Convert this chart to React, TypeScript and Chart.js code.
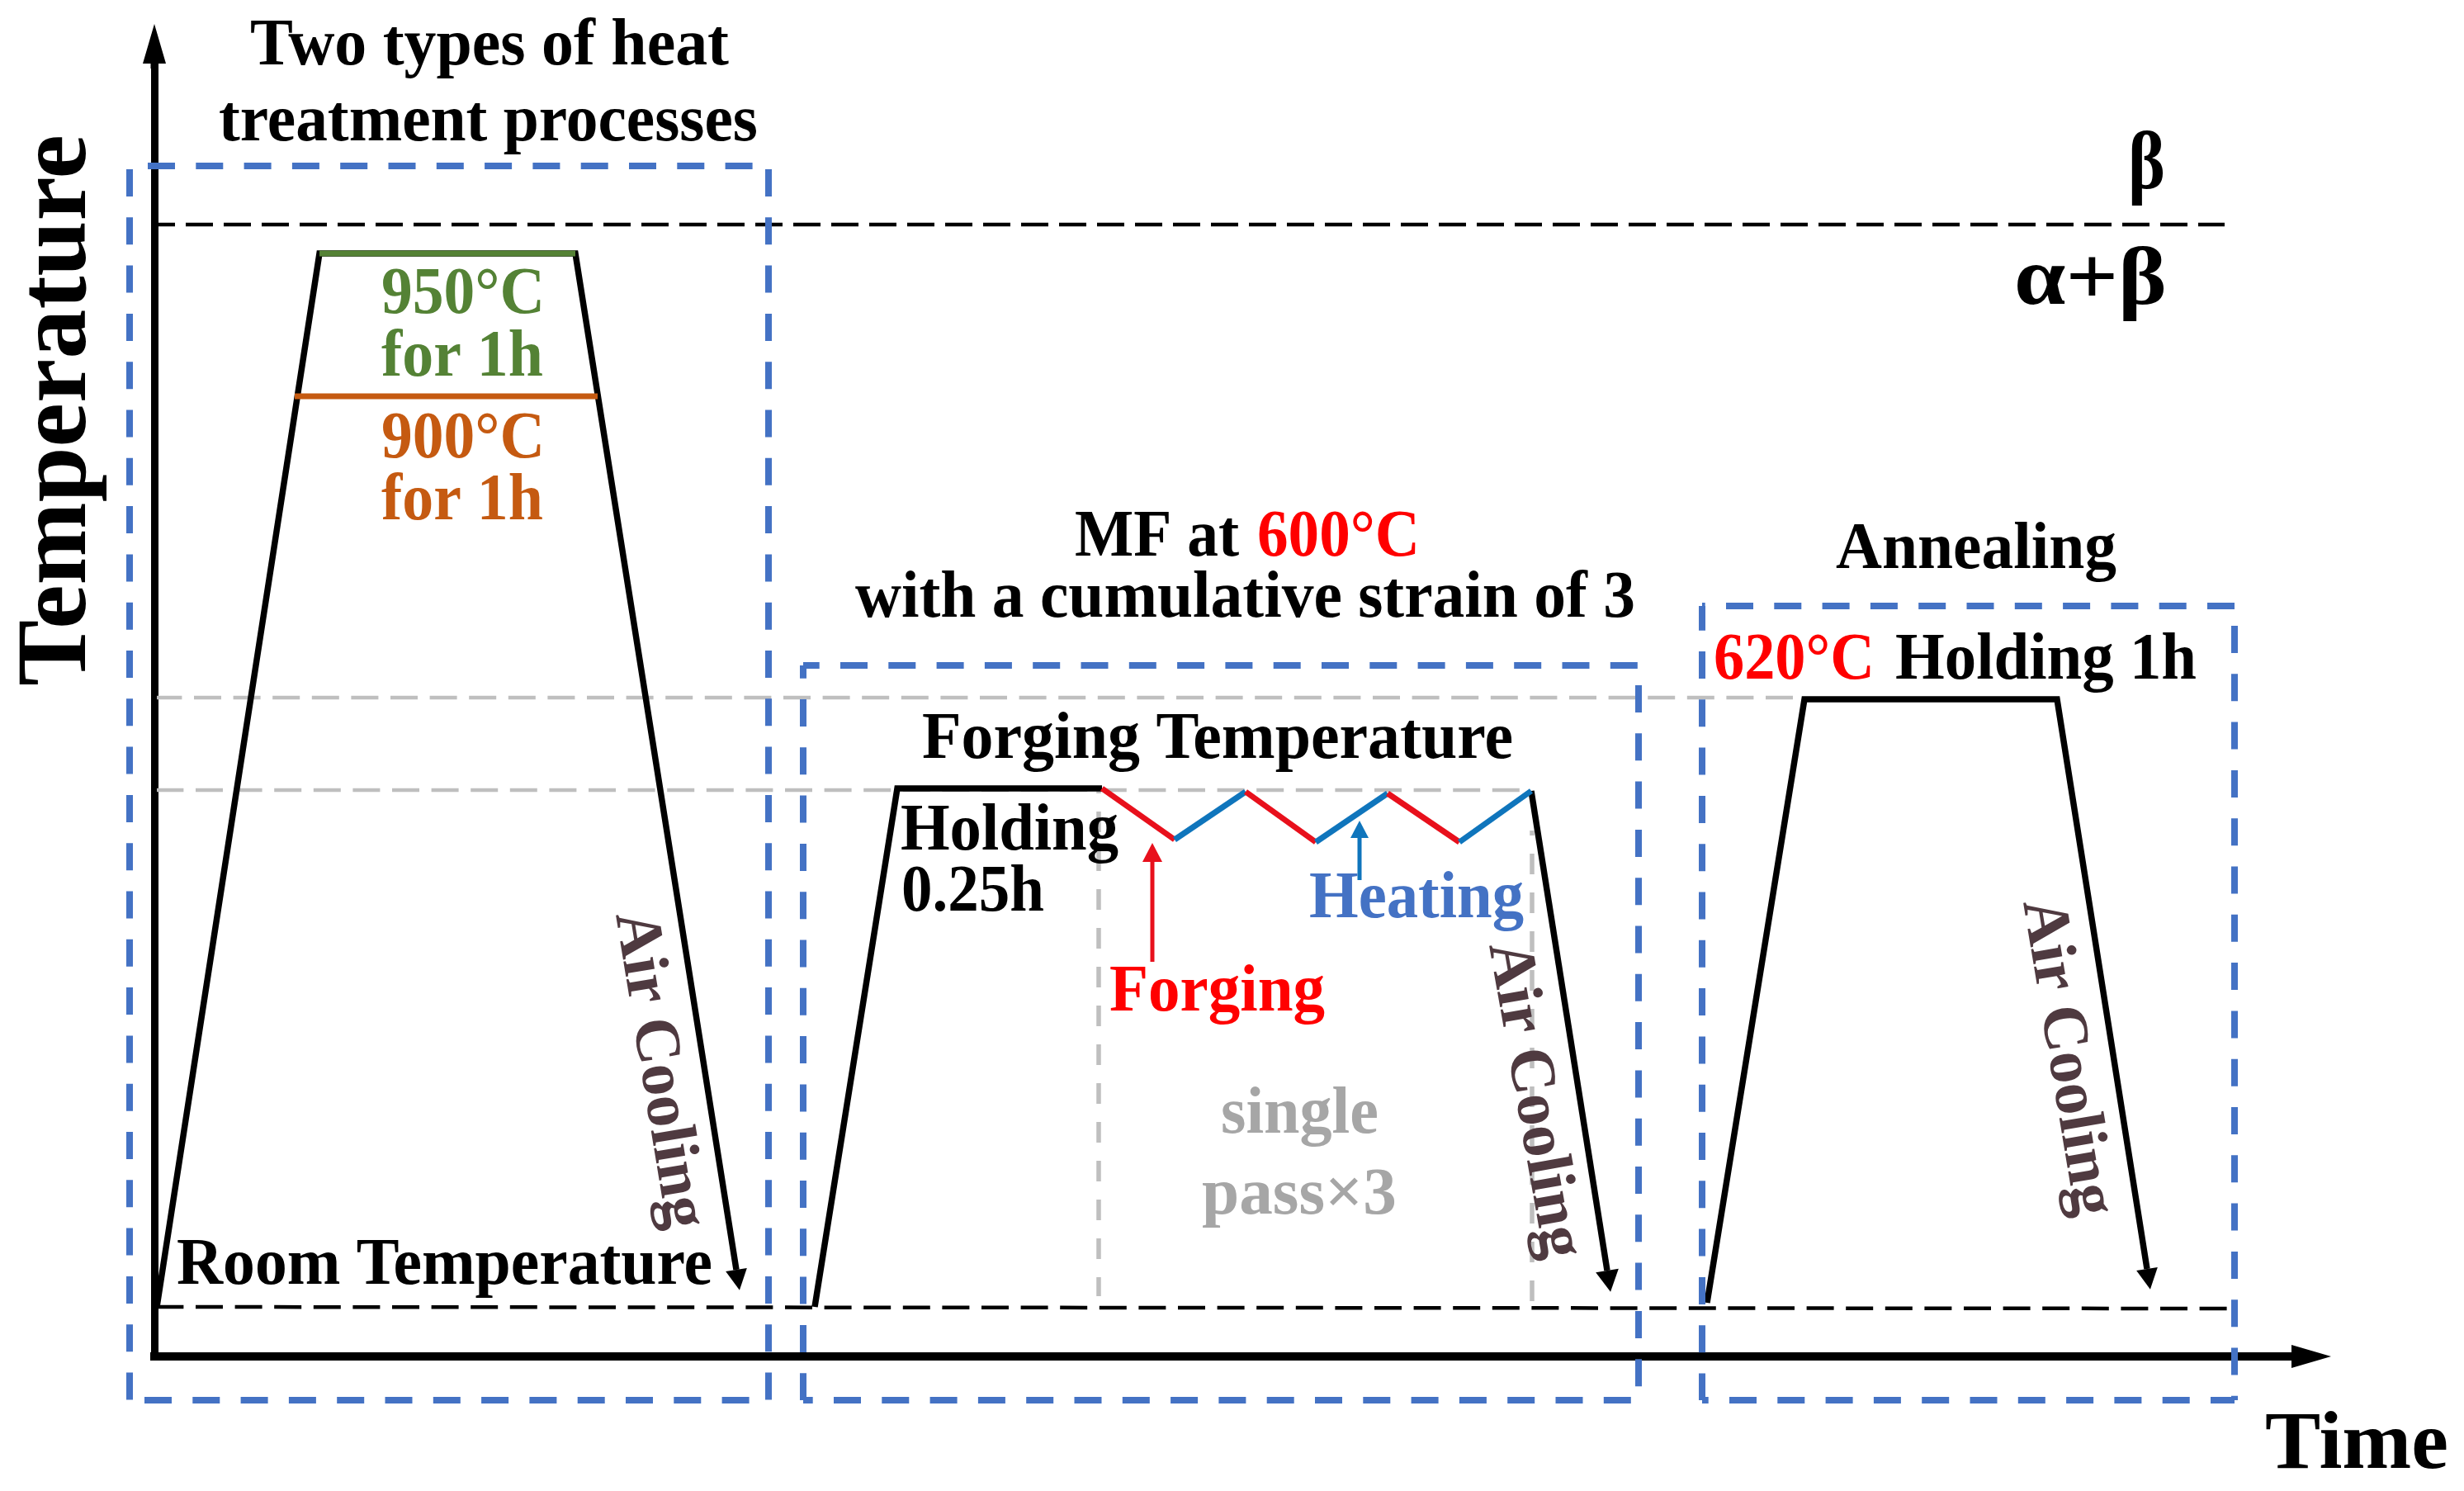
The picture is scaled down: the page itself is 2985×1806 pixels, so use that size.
import React, { useEffect, useRef } from "react";
import { Chart, registerables } from "chart.js";

Chart.register(...registerables);

// schematic units: time runs right from the y axis, temperature runs up from the x axis
const solutionTime = [3, 200, 510, 705];
const solutionTemp = [60, 1336, 1336, 105];
const soak950Time = [200, 510];
const soak950Temp = [1336, 1336];
const soak900Time = [170, 537];
const soak900Temp = [1163, 1163];

const forgeHeatTime = [800, 900, 1148];
const forgeHeatTemp = [60, 688, 688];
const forgePassTime = [1148, 1236, 1322, 1407, 1494, 1581, 1668];
const forgePassTemp = [688, 626, 684, 623, 682, 623, 685];
const forgeCoolTime = [1668, 1760];
const forgeCoolTemp = [685, 104];

const annealTime = [1881, 1999, 2305, 2414];
const annealTemp = [65, 796, 796, 106];

const betaLineTime = [3, 2508];
const betaLineTemp = [1371, 1371];
const roomLineTime = [4, 2520];
const roomLineTemp = [60, 58];
const annealLevelTime = [3, 1986];
const annealLevelTemp = [798, 798];
const forgeLevelTime = [3, 1668];
const forgeLevelTemp = [686, 686];
const passStartTime = [1144, 1144];
const passStartTemp = [686, 73];
const passEndTime = [1669, 1669];
const passEndTemp = [637, 67];

const forgingPointerTime = [1209, 1209];
const forgingPointerTemp = [478, 599];
const heatingPointerTime = [1460, 1460];
const heatingPointerTemp = [577, 628];

// left/right and top/bottom of the three dashed process boxes
const box1Time = [-30, 744];
const box1Temp = [1442, -53];
const box2Time = [786, 1798];
const box2Temp = [837, -53];
const box3Time = [1875, 2520];
const box3Temp = [909, -53];

const yAxisTipTime = [0, 0];
const yAxisTipTemp = [1560, 1566];
const xAxisTipTime = [2583, 2589];
const xAxisTipTemp = [0, 0];

const BLUE_BOX = "#4472c4";
const GREY_LINE = "#bfbfbf";
const AIR_TEXT = "#4f3a40";

const pts = (t: number[], T: number[]) => t.map((x, i) => ({ x, y: T[i] }));

const line = (t: number[], T: number[], color: string, width: number, extra: any = {}) => ({
  data: pts(t, T),
  showLine: true,
  borderColor: color,
  borderWidth: width,
  pointRadius: 0,
  tension: 0,
  clip: false,
  ...extra,
});

// dash pattern whose first full dash begins `start` px along the line
const dashed = (dash: number, gap: number, start: number) => ({
  borderDash: [dash, gap],
  borderDashOffset: dash + gap - start,
});

// each side is its own line so its dashes can be lined up on their own
const boxSides = (t: number[], T: number[], starts: number[]) => [
  line(t, [T[0], T[0]], BLUE_BOX, 8, dashed(33, 25.3, starts[0])),
  line(t, [T[1], T[1]], BLUE_BOX, 8, dashed(33, 25.3, starts[1])),
  line([t[0], t[0]], T, BLUE_BOX, 8, dashed(33, 25.3, starts[2])),
  line([t[1], t[1]], T, BLUE_BOX, 8, dashed(33, 25.3, starts[3])),
];

// text, left edge (time), baseline (temperature), drawn width, font size, colour, rotation
const labels: [string, number, number, number, number, string, number?][] = [
  ["Two types of heat", 116, 1565, 580, 80, "#000", 0],
  ["treatment processes", 78, 1473, 653, 80, "#000", 0],
  ["950°C", 275, 1264, 198, 80, "#548235", 0],
  ["for 1h", 275, 1188, 196, 80, "#548235", 0],
  ["900°C", 275, 1089, 198, 80, "#c55a11", 0],
  ["for 1h", 275, 1014, 196, 80, "#c55a11", 0],
  ["Room Temperature", 27, 88, 649, 80, "#000", 0],
  ["MF at", 1115, 970, 199, 80, "#000", 0],
  ["600°C", 1336, 970, 197, 80, "#f00", 0],
  ["with a cumulative strain of 3", 849, 896, 945, 80, "#000", 0],
  ["Forging Temperature", 930, 725, 716, 80, "#000", 0],
  ["Holding", 904, 614, 264, 80, "#000", 0],
  ["0.25h", 905, 540, 173, 80, "#000", 0],
  ["Heating", 1399, 532, 260, 80, BLUE_BOX, 0],
  ["Forging", 1157, 419, 261, 80, "#f00", 0],
  ["single", 1292, 271, 191, 80, "#a6a6a6", 0],
  ["pass×3", 1269, 173, 236, 80, "#a6a6a6", 0],
  ["Annealing", 2037, 955, 340, 80, "#000", 0],
  ["620°C", 1889, 821, 195, 80, "#f00", 0],
  ["Holding 1h", 2109, 821, 365, 80, "#000", 0],
  ["Time", 2557, -135, 222, 100, "#000", 0],
  ["β", 2391, 1415, 45, 100, "#000", 0],
  ["α+β", 2253, 1275, 185, 100, "#000", 0],
  ["Temperature", -84, 812, 668, 120, "#000", -90],
  ["Air Cooling", 559, 535, 388, 78, AIR_TEXT, 80.7],
  ["Air Cooling", 1617, 498, 388, 78, AIR_TEXT, 80],
  ["Air Cooling", 2264, 550, 388, 78, AIR_TEXT, 80.5],
];

const arrowHeads = {
  id: "arrowHeads",
  afterDatasetsDraw(chart: any) {
    const { ctx } = chart;
    chart.data.datasets.forEach((ds: any, i: number) => {
      if (!ds.arrowLen) return;
      const points = chart.getDatasetMeta(i).data;
      const a = points[points.length - 2];
      const b = points[points.length - 1];
      const angle = Math.atan2(b.y - a.y, b.x - a.x);
      ctx.save();
      ctx.translate(b.x, b.y);
      ctx.rotate(angle);
      ctx.fillStyle = ds.borderColor;
      ctx.beginPath();
      ctx.moveTo(ds.arrowLen, 0);
      ctx.lineTo(0, -ds.arrowHalf);
      ctx.lineTo(0, ds.arrowHalf);
      ctx.closePath();
      ctx.fill();
      ctx.restore();
    });
  },
};

const textLabels = {
  id: "textLabels",
  afterDraw(chart: any) {
    const { ctx, scales } = chart;
    labels.forEach(([text, t, T, width, size, color, rotation]) => {
      ctx.save();
      ctx.font = `bold ${size}px "Liberation Serif"`;
      ctx.fillStyle = color;
      ctx.textAlign = "left";
      ctx.textBaseline = "alphabetic";
      ctx.translate(scales.x.getPixelForValue(t), scales.y.getPixelForValue(T));
      ctx.rotate(((rotation || 0) * Math.PI) / 180);
      ctx.scale(width / ctx.measureText(text).width, 1);
      ctx.fillText(text, 0, 0);
      ctx.restore();
    });
  },
};

export default function App() {
  const canvasRef = useRef<HTMLCanvasElement | null>(null);

  useEffect(() => {
    if (!canvasRef.current) return;

    const chart = new Chart(canvasRef.current, {
      type: "scatter",
      data: {
        datasets: [
          ...boxSides(box1Time, box1Temp, [22, 18, 4, 4]),
          ...boxSides(box2Time, box2Temp, [45, 37, 41, 24]),
          ...boxSides(box3Time, box3Temp, [29, 33, 55, 24]),
          line(soak950Time, soak950Temp, "#548235", 7),
          line(soak900Time, soak900Temp, "#c55a11", 7),
          line(solutionTime, solutionTemp, "#000", 7.5, { arrowLen: 25, arrowHalf: 13 }),
          line(forgePassTime, forgePassTemp, "#f00", 7, {
            segment: {
              borderColor: (c: any) => (c.p0DataIndex % 2 === 0 ? "#e8101c" : "#0f75bc"),
            },
          }),
          line(forgeHeatTime, forgeHeatTemp, "#000", 7.5),
          line(forgeCoolTime, forgeCoolTemp, "#000", 7.5, { arrowLen: 26, arrowHalf: 14 }),
          line(annealTime, annealTemp, "#000", 7.5, { arrowLen: 25, arrowHalf: 13 }),
          line(forgingPointerTime, forgingPointerTemp, "#e8101c", 5, { arrowLen: 23, arrowHalf: 12 }),
          line(heatingPointerTime, heatingPointerTemp, "#0f75bc", 5, { arrowLen: 21, arrowHalf: 11 }),
          line(betaLineTime, betaLineTemp, "#000", 4.5, dashed(33, 13, 35)),
          line(roomLineTime, roomLineTemp, "#000", 4.5, dashed(33, 14.6, 46)),
          line(annealLevelTime, annealLevelTemp, GREY_LINE, 4.5, dashed(33, 14.6, 45)),
          line(forgeLevelTime, forgeLevelTemp, GREY_LINE, 4.5, dashed(33, 14.6, 47)),
          line(passStartTime, passStartTemp, GREY_LINE, 5.5, dashed(25, 22, 26)),
          line(passEndTime, passEndTemp, GREY_LINE, 5.5, dashed(25, 22, 28)),
          line(yAxisTipTime, yAxisTipTemp, "#000", 9, { arrowLen: 48, arrowHalf: 14 }),
          line(xAxisTipTime, xAxisTipTemp, "#000", 10, { arrowLen: 48, arrowHalf: 14 }),
        ] as any,
      },
      options: {
        animation: false,
        responsive: false,
        devicePixelRatio: 1,
        layout: { padding: { left: 187, right: 209, top: 77, bottom: 163 } },
        plugins: { legend: { display: false }, tooltip: { enabled: false } },
        scales: {
          x: {
            type: "linear",
            min: 0,
            max: 2589,
            grid: { display: false, drawTicks: false },
            ticks: { display: false },
            border: { display: true, color: "#000", width: 10 },
          },
          y: {
            type: "linear",
            min: 0,
            max: 1566,
            grid: { display: false, drawTicks: false },
            ticks: { display: false },
            border: { display: true, color: "#000", width: 9 },
          },
        },
      },
      plugins: [arrowHeads, textLabels],
    });

    return () => {
      chart.destroy();
    };
  }, []);

  return (
    <div style={{ position: "absolute", left: 0, top: 0, width: 2985, height: 1806, background: "#fff" }}>
      <canvas ref={canvasRef} width={2985} height={1806} style={{ display: "block" }}></canvas>
    </div>
  );
}
